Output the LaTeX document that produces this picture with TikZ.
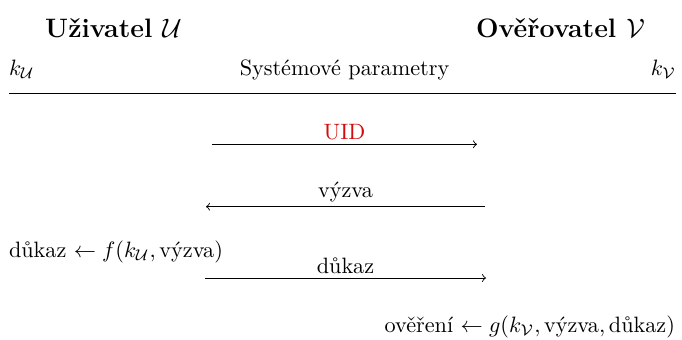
\documentclass[tikz,border=0pt]{standalone}
\usepackage{amsmath}
\usepackage{fontspec}
\definecolor{uidred}{rgb}{0.82,0.05,0.05}
\begin{document}
\begin{tikzpicture}[x=0.45pt,y=-0.45pt,
  txt/.style={inner sep=0pt,outer sep=0pt},
  head/.style={txt,font=\large\bfseries,anchor=base},
  msg/.style={line width=0.4pt,->},
  lbl/.style={txt,anchor=base}]
\useasboundingbox (0,0) rectangle (682,339);
% headers
\node[head] (hU) at (113.5,37) {Uživatel $\mathcal{U}$};
\node[head] (hV) at (560.5,37) {Ověřovatel $\mathcal{V}$};
% parameters row
\node[txt,anchor=base west] (kU) at (9,75) {$k_{\mathcal{U}}$};
\node[lbl] (sp) at (344.5,75) {Systémové parametry};
\node[txt,anchor=base east] (kV) at (676,75) {$k_{\mathcal{V}}$};
% rule
\coordinate (rL) at (9,93);
\coordinate (rR) at (676,93);
\draw[line width=0.4pt] (rL) -- (rR);
% UID
\coordinate (a1s) at (212,144.3);
\coordinate (a1e) at (477,144.3);
\draw[msg] (a1s) -- (a1e);
\node[lbl,text=uidred] (l1) at (344.5,139.3) {UID};
% vyzva
\coordinate (a2s) at (485,206.7);
\coordinate (a2e) at (206,206.7);
\draw[msg] (a2s) -- (a2e);
\node[lbl] (l2) at (345.5,197.3) {výzva};
% proof computation
\node[txt,anchor=base west] (f) at (9,257) {důkaz $\leftarrow f(k_{\mathcal{U}},\text{výzva})$};
% dukaz
\coordinate (a3s) at (205,278);
\coordinate (a3e) at (486,278);
\draw[msg] (a3s) -- (a3e);
\node[lbl] (l3) at (345.5,273) {důkaz};
% verification
\node[txt,anchor=base east] (g) at (675,332) {ověření $\leftarrow g(k_{\mathcal{V}},\text{výzva},\text{důkaz})$};
\end{tikzpicture}
\end{document}
